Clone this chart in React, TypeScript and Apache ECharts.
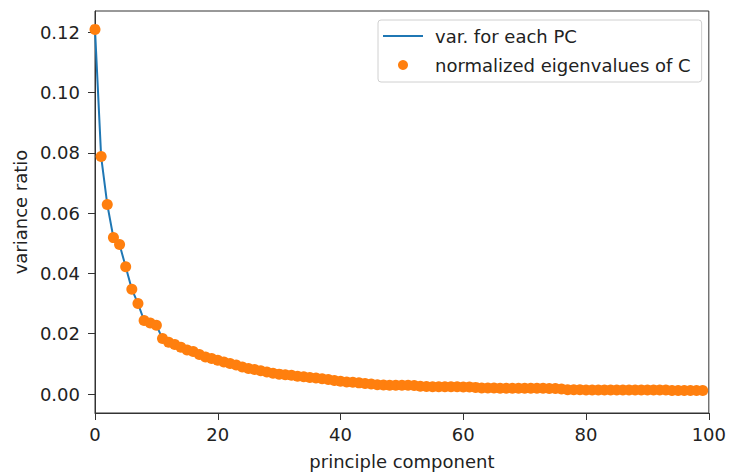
import React, { useEffect, useRef } from "react";
import * as echarts from "echarts";

// principal component index 0..99
const components: number[] = Array.from({ length: 100 }, (_, i) => i);

// variance ratio for each principal component
const varianceRatio: number[] = [
  0.1210, 0.0788, 0.0629, 0.0519, 0.0496, 0.0422, 0.0348, 0.0300, 0.0244, 0.0236,
  0.0228, 0.0184, 0.0172, 0.0164, 0.0155, 0.0146, 0.0141, 0.0131, 0.0123, 0.0118,
  0.0112, 0.0106, 0.0101, 0.0096, 0.0090, 0.0085, 0.0081, 0.0077, 0.0073, 0.0069,
  0.0066, 0.0064, 0.0062, 0.0059, 0.0057, 0.0055, 0.0053, 0.0051, 0.0048, 0.0045,
  0.0042, 0.0040, 0.0039, 0.0037, 0.0035, 0.0033, 0.0031, 0.0030, 0.0029, 0.0029,
  0.0029, 0.0029, 0.0028, 0.0026, 0.0025, 0.0024, 0.0024, 0.0024, 0.0024, 0.0024,
  0.0023, 0.0023, 0.0022, 0.0020, 0.0020, 0.0020, 0.0019, 0.0019, 0.0019, 0.0019,
  0.0019, 0.0019, 0.0019, 0.0019, 0.0018, 0.0018, 0.0017, 0.0014, 0.0014, 0.0014,
  0.0013, 0.0013, 0.0013, 0.0013, 0.0013, 0.0013, 0.0013, 0.0013, 0.0013, 0.0013,
  0.0013, 0.0013, 0.0013, 0.0013, 0.0012, 0.0012, 0.0012, 0.0012, 0.0012, 0.0012,
];

// normalized eigenvalues of C (same values as the variance ratio)
const eigenvalues: number[] = varianceRatio.slice();

const yTicks: number[] = [0, 0.02, 0.04, 0.06, 0.08, 0.1, 0.12];
const xTicks: number[] = [0, 20, 40, 60, 80, 100];

const lineName = "var. for each PC";
const dotName = "normalized eigenvalues of C";

const FONT = "DejaVu Sans";
const TEXT = "#222";

export default function App() {
  const ref = useRef<HTMLDivElement>(null);

  useEffect(() => {
    document.body.style.margin = "0";
    if (!ref.current) return;
    const chart = echarts.init(ref.current, null, { renderer: "svg" });
    chart.setOption({
      animation: false,
      backgroundColor: "#fff",
      textStyle: { fontFamily: FONT, color: TEXT },
      grid: {
        left: 95,
        right: 13,
        top: 11,
        bottom: 57,
        show: true,
        borderColor: "#333",
        borderWidth: 1,
        backgroundColor: "transparent",
      },
      legend: {
        left: 378,
        top: 20,
        orient: "vertical",
        align: "left",
        itemWidth: 40,
        itemHeight: 10,
        itemGap: 9,
        padding: [6, 11, 7, 5],
        backgroundColor: "rgba(255,255,255,0.8)",
        borderColor: "#d0d0d0",
        borderWidth: 1,
        borderRadius: 3,
        textStyle: { fontFamily: FONT, fontSize: 18, color: TEXT, lineHeight: 20, padding: [0, 0, 0, 7] },
        data: [
          { name: lineName, icon: "path://M0,0 L40,0 L40,2 L0,2 Z", itemStyle: { color: "#1f77b4" } },
          { name: dotName, icon: "circle" },
        ],
      },
      xAxis: {
        type: "value",
        min: xTicks[0],
        max: xTicks[xTicks.length - 1],
        interval: 20,
        name: "principle component",
        nameLocation: "middle",
        nameGap: 39,
        nameTextStyle: { fontFamily: FONT, fontSize: 18, color: TEXT },
        axisLine: { show: true, onZero: false, lineStyle: { color: "#333", width: 1 } },
        axisTick: { show: true, inside: false, length: 7, lineStyle: { color: "#333" } },
        axisLabel: { fontFamily: FONT, fontSize: 18, color: TEXT, margin: 12 },
        splitLine: { show: false },
      },
      yAxis: {
        type: "value",
        min: -0.0063,
        max: 0.1271,
        name: "variance ratio",
        nameLocation: "middle",
        nameGap: 65,
        nameRotate: 90,
        nameTextStyle: { fontFamily: FONT, fontSize: 18, color: TEXT },
        axisLine: { show: true, onZero: false, lineStyle: { color: "#333", width: 1 } },
        axisTick: { show: true, inside: false, length: 7, lineStyle: { color: "#333" }, customValues: yTicks },
        axisLabel: {
          fontFamily: FONT,
          fontSize: 18,
          color: TEXT,
          margin: 15,
          customValues: yTicks,
          formatter: (v: number) => v.toFixed(2),
        },
        splitLine: { show: false },
      },
      series: [
        {
          name: lineName,
          type: "line",
          data: components.map((c, i) => [c, varianceRatio[i]]),
          symbol: "none",
          showSymbol: false,
          lineStyle: { color: "#1f77b4", width: 2 },
          itemStyle: { color: "#1f77b4" },
          z: 2,
        },
        {
          name: dotName,
          type: "scatter",
          data: components.map((c, i) => [c, eigenvalues[i]]),
          symbol: "circle",
          symbolSize: 11,
          itemStyle: { color: "#ff7f0e", opacity: 1 },
          z: 3,
        },
      ],
    });
    return () => chart.dispose();
  }, []);

  return <div ref={ref} style={{ width: 729, height: 475 }} />;
}
